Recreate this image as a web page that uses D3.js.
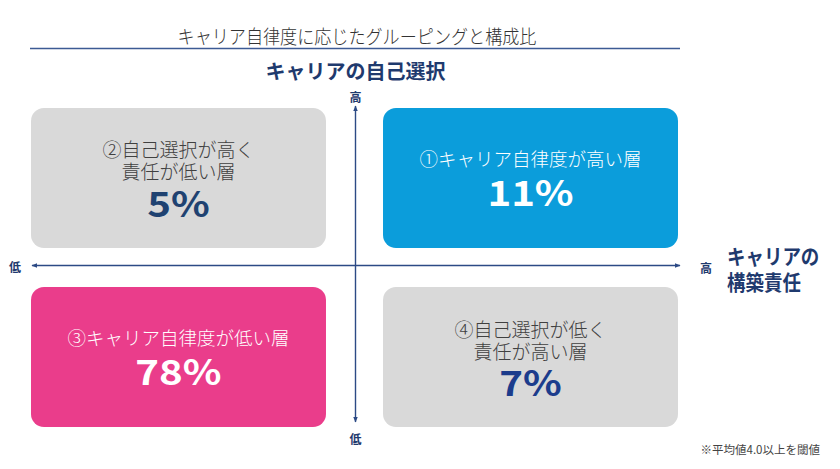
<!DOCTYPE html>
<html><head><meta charset="utf-8">
<script src="https://cdn.jsdelivr.net/npm/d3@7"></script>
<style>
body{margin:0;background:#fff;}
svg{display:block;}
text{font-family:"Noto Sans CJK JP","Noto Sans",sans-serif;}
</style></head>
<body><svg id="c" width="840" height="469"></svg>
<script>
// ---- data ----
const title = "キャリア自律度に応じたグルーピングと構成比";
const yAxisTitle = ["キャリアの自己選択"];
const xAxisTitle = ["キャリアの", "構築責任"];
const levels = ["低", "高"];
const quadrantNames = [
  ["①キャリア自律度が高い層"],
  ["②自己選択が高く", "責任が低い層"],
  ["③キャリア自律度が低い層"],
  ["④自己選択が低く", "責任が高い層"]
];
const quadrantX = ["高", "低", "低", "高"];   // キャリアの構築責任
const quadrantY = ["高", "高", "低", "低"];   // キャリアの自己選択
const shares = [11, 5, 78, 7];
const note = "※平均値4.0以上を閾値";

// ---- drawing ----
const svg = d3.select("#c");
const navy = "#1f3a6e";
const fills = ["#0b9ddb", "#d9d9d9", "#ea3d8b", "#d9d9d9"];
const textCols = ["#ffffff", "#404040", "#ffffff", "#404040"];
const numCols = ["#ffffff", "#1f4271", "#ffffff", "#1c3c8c"];

const x = d3.scaleBand().domain(levels).range([31, 678]).paddingInner(0.162);
const y = d3.scaleBand().domain(["高", "低"]).range([108, 427]).paddingInner(0.218);

const cx = (x("低") + x.bandwidth() + x("高")) / 2 + 1;
const cy = (y("高") + y.bandwidth() + y("低")) / 2 - 2;

// title
svg.append("text").attr("x", 357).attr("y", 36).attr("text-anchor", "middle")
  .attr("dominant-baseline", "central")
  .attr("font-size", 19).attr("fill", "#333").attr("font-weight", 300)
  .attr("transform", "translate(357,0) scale(0.9,1) translate(-357,0)")
  .text(title);
svg.append("line").attr("x1", 30).attr("x2", 680).attr("y1", 48.5).attr("y2", 48.5)
  .attr("stroke", "#3c5a94").attr("stroke-width", 1.3);

// y axis title
svg.append("text").attr("x", cx).attr("y", 70).attr("text-anchor", "middle")
  .attr("dominant-baseline", "central")
  .attr("font-size", 20).attr("font-weight", 700).attr("fill", navy).text(yAxisTitle[0]);

// arrows
const defs = svg.append("defs");
defs.append("marker").attr("id", "ah").attr("viewBox", "0 0 10 10").attr("refX", 9).attr("refY", 5)
  .attr("markerWidth", 6).attr("markerHeight", 6).attr("orient", "auto-start-reverse")
  .attr("markerUnits", "userSpaceOnUse")
  .append("path").attr("d", "M0,1 L10,5 L0,9 Z").attr("fill", "#2c4a85");

svg.append("line").attr("x1", cx).attr("x2", cx).attr("y1", 106).attr("y2", 422)
  .attr("stroke", "#2c4a85").attr("stroke-width", 1.4)
  .attr("marker-start", "url(#ah)").attr("marker-end", "url(#ah)");
svg.append("line").attr("x1", 32).attr("x2", 680).attr("y1", cy).attr("y2", cy)
  .attr("stroke", "#2c4a85").attr("stroke-width", 1.4)
  .attr("marker-start", "url(#ah)").attr("marker-end", "url(#ah)");

// level labels
const lvl = (t, px, py) => svg.append("text").attr("x", px).attr("y", py).attr("text-anchor", "middle")
  .attr("dominant-baseline", "central")
  .attr("font-size", 12).attr("font-weight", 700).attr("fill", navy).text(t);
lvl(levels[1], cx, 96);
lvl(levels[0], cx, 438);
lvl(levels[0], 15, cy + 1);
lvl(levels[1], 706, cy + 2);

// x axis title
xAxisTitle.forEach((t, i) => svg.append("text").attr("x", 0).attr("y", 0)
  .attr("dominant-baseline", "central")
  .attr("transform", `translate(727,${255 + i * 26}) scale(0.88,1)`)
  .attr("font-size", 21).attr("font-weight", 700).attr("fill", navy).text(t));

// quadrants
const g = svg.selectAll("g.q").data(shares.map((v, i) => ({v, i}))).join("g").attr("class", "q");
g.append("rect")
  .attr("x", d => x(quadrantX[d.i])).attr("y", d => y(quadrantY[d.i]))
  .attr("width", x.bandwidth()).attr("height", y.bandwidth())
  .attr("rx", 13).attr("fill", d => fills[d.i]);

g.each(function(d) {
  const sel = d3.select(this);
  const mx = x(quadrantX[d.i]) + x.bandwidth() / 2;
  const my = y(quadrantY[d.i]) + y.bandwidth() / 2;
  const lines = quadrantNames[d.i];
  const n = lines.length;
  const offs = n === 1 ? [-20] : [-29, -7];
  const numOff = n === 1 ? 15 : 26;
  lines.forEach((t, k) => {
    sel.append("text").attr("x", mx).attr("y", my + offs[k])
      .attr("dominant-baseline", "central")
      .attr("text-anchor", "middle").attr("font-size", n === 1 ? 18.5 : 19).attr("font-weight", 300)
      .attr("fill", textCols[d.i]).text(t);
  });
  const fs = 35;
  sel.append("text").attr("x", 0).attr("y", 0)
    .attr("transform", `translate(${mx},${my + numOff + fs * 0.36}) scale(1.15,1)`)
    .attr("text-anchor", "middle").attr("font-size", fs).attr("font-weight", 700)
    .attr("font-family", "'DejaVu Sans',Verdana,sans-serif")
    .attr("fill", numCols[d.i]).text(d.v + "%");
});

// note
svg.append("text").attr("x", 820).attr("y", 449).attr("text-anchor", "end")
  .attr("dominant-baseline", "central")
  .attr("font-size", 11.5).attr("fill", "#444").text(note);
</script></body></html>
